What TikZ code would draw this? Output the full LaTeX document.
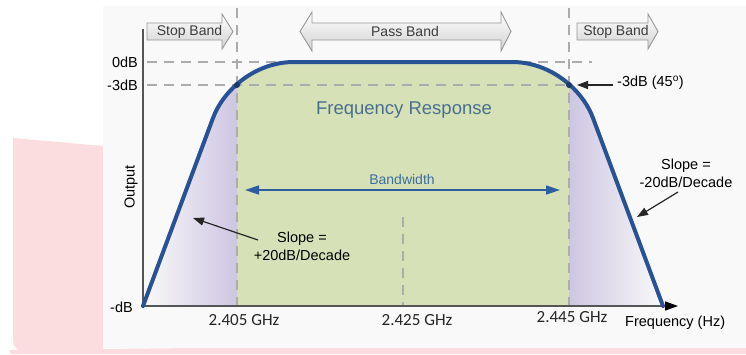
\documentclass[tikz,border=0pt]{standalone}
\usepackage{fontspec}
\setmainfont{Liberation Sans}
\newfontfamily\calib{Carlito}
\usetikzlibrary{arrows.meta,shadings}
\definecolor{pinkbg}{RGB}{252,221,223}
\definecolor{panel}{RGB}{249,249,249}
\definecolor{curveblue}{RGB}{40,82,150}
\definecolor{passgreen}{RGB}{214,225,184}
\definecolor{lav}{RGB}{206,198,226}
\definecolor{dashgray}{RGB}{172,172,172}
\definecolor{axisgray}{RGB}{85,85,85}
\definecolor{titleblue}{RGB}{72,112,142}
\definecolor{bwblue}{RGB}{45,95,160}
\definecolor{bwtext}{RGB}{60,110,155}
\definecolor{bandedge}{RGB}{150,150,150}
\definecolor{bandtext}{RGB}{60,60,60}
\tikzset{
  gridline/.style={dashgray, line width=1.5pt, dash pattern=on 10pt off 7pt},
  bandarrow/.style={draw=bandedge, line width=0.9pt, top color=white, bottom color=black!18},
  bandlabel/.style={text=bandtext, font=\fontsize{14}{16}\selectfont, inner sep=0pt},
  lbl/.style={font=\fontsize{14.5}{18}\selectfont, inner sep=0pt},
  ticklbl/.style={font=\calib\fontsize{17}{19}\selectfont, inner sep=0pt, text=black!85},
  pointer/.style={black!85, line width=1.2pt, -{Triangle[length=11pt,width=8pt]}}
}
\begin{document}
\begin{tikzpicture}[x=1pt,y=-1pt]
\useasboundingbox (0,0) rectangle (746,354);
\fill[white] (0,0) rectangle (746,354);
% pink background pieces
\fill[pinkbg] (13,138) -- (103,146) -- (103,352) -- (24,352) to[out=180,in=270] (13,340) -- cycle;
\fill[pinkbg] (10,350) -- (746,342) -- (746,354) -- (10,354) -- cycle;
% panel
\fill[panel] (103,6) rectangle (746,348);

\def\curvepath{(143,306) -- (213,118) .. controls (223.4,90) and (255,62) .. (294,62) -- (512,62) .. controls (551,62) and (582.6,90) .. (593,118) -- (663,306)}

% fills under the curve
\begin{scope}
  \clip \curvepath -- cycle;
  \fill[passgreen] (237,0) rectangle (569,306);
  \shade[left color=panel, right color=lav] (143,0) rectangle (237,306);
  \shade[left color=lav, right color=panel] (569,0) rectangle (663,306);
\end{scope}

% dashed guide lines
\draw[gridline] (147,62) -- (592,62);
\draw[gridline] (147,85) -- (569,85);
\draw[gridline] (237,8) -- (237,306);
\draw[gridline] (569,8) -- (569,306);
\draw[gridline] (403,217) -- (403,306);

% band arrows
\path[bandarrow] (147,23) -- (222,23) -- (222,14) -- (233,31.5) -- (222,49) -- (222,40) -- (147,40) -- cycle;
\path[bandarrow] (577,23) -- (648,23) -- (648,14) -- (658,31.5) -- (648,49) -- (648,40) -- (577,40) -- cycle;
\path[bandarrow] (300,31.5) -- (312,12) -- (312,23) -- (501,23) -- (501,12) -- (511,31.5) -- (501,51) -- (501,40) -- (312,40) -- (312,51) -- cycle;
\node[bandlabel] (stopL) at (189.5,31.5) {Stop Band};
\node[bandlabel] (pass) at (405,31.5) {Pass Band};
\node[bandlabel] (stopR) at (616,31.5) {Stop Band};

% axes
\coordinate (ytop) at (143,29);
\coordinate (origin) at (143,306);
\coordinate (xend) at (678,306);
\draw[axisgray, line width=1.4pt] (ytop) -- (origin);
\draw[axisgray, line width=1.4pt, -{Triangle[length=13pt,width=9pt,fill=black,color=black]}] (origin) -- (xend);

% response curve
\draw[curveblue, line width=4pt, line join=round, line cap=round] \curvepath;
\fill[curveblue!70!black] (237,85) circle (3);
\fill[curveblue!70!black] (569,85) circle (3);

% axis labels
\node[lbl, anchor=east] (l0) at (138,62) {0dB};
\node[lbl, anchor=east] (l3) at (138,85) {-3dB};
\node[lbl, anchor=east] (ldb) at (133,307) {-dB};
\node[lbl, rotate=90] (out) at (131,187) {Output};
\node[lbl, anchor=west] (freq) at (625,323) {Frequency (Hz)};
\node[ticklbl] (t1) at (244,320) {2.405 GHz};
\node[ticklbl] (t2) at (417,320) {2.425 GHz};
\node[ticklbl] (t3) at (572,317) {2.445 GHz};

% titles
\node[lbl, font=\fontsize{18.5}{22}\selectfont, text=titleblue] (title) at (404,110) {Frequency Response};
\node[lbl, text=bwtext, font=\fontsize{14}{16}\selectfont] (bw) at (402,179) {Bandwidth};
\coordinate (bwl) at (245,190);
\coordinate (bwr) at (560,190);
\draw[bwblue, line width=1.5pt, {Triangle[length=14pt,width=9pt]}-{Triangle[length=14pt,width=9pt]}] (bwl) -- (bwr);

% -3dB marker
\node[lbl, anchor=west] (m3) at (617,83) {-3dB (45\textsuperscript{o})};
\coordinate (m3tip) at (577,85);
\draw[pointer] (m3.west) ++(-4,2) coordinate (m3tail) -- (m3tip);

% slopes
\node[lbl, align=center] (slL) at (302,246) {Slope =\\+20dB/Decade};
\coordinate (slLtail) at (258,240);
\coordinate (slLtip) at (193,218);
\draw[pointer] (slLtail) -- (slLtip);
\node[lbl, align=center] (slR) at (686,173) {Slope =\\-20dB/Decade};
\coordinate (slRtail) at (678,192);
\coordinate (slRtip) at (637,217);
\draw[pointer] (slRtail) -- (slRtip);
\end{tikzpicture}
\end{document}
